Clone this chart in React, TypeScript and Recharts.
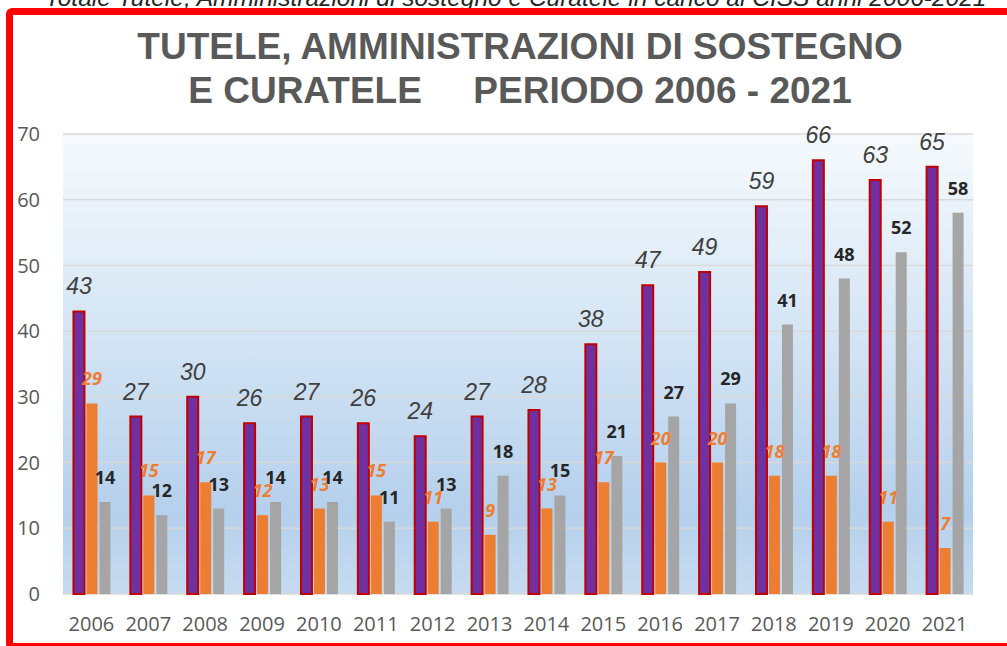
import React from "react";
import {
  BarChart,
  Bar,
  XAxis,
  YAxis,
  CartesianGrid,
  LabelList,
} from "recharts";

const years = [
  "2006", "2007", "2008", "2009", "2010", "2011", "2012", "2013",
  "2014", "2015", "2016", "2017", "2018", "2019", "2020", "2021",
];
const totale = [43, 27, 30, 26, 27, 26, 24, 27, 28, 38, 47, 49, 59, 66, 63, 65];
const tuteleCuratele = [29, 15, 17, 12, 13, 15, 11, 9, 13, 17, 20, 20, 18, 18, 11, 7];
const amministrazioni = [14, 12, 13, 14, 14, 11, 13, 18, 15, 21, 27, 29, 41, 48, 52, 58];
const yTicks = [0, 10, 20, 30, 40, 50, 60, 70];

const data = years.map((year, i) => ({
  year,
  totale: totale[i],
  tutele: tuteleCuratele[i],
  ads: amministrazioni[i],
}));

const captionStyle: React.CSSProperties = {
  position: "absolute",
  top: -14,
  fontFamily: "Liberation Sans, Arial, sans-serif",
  fontStyle: "italic",
  fontSize: 24.5,
  lineHeight: "24.5px",
  color: "#262626",
  whiteSpace: "nowrap",
};

const App: React.FC = () => {
  return (
    <div
      style={{
        position: "fixed",
        left: 0,
        top: 0,
        width: 1007,
        height: 646,
        overflow: "hidden",
        background: "#fff",
      }}
    >
      <div style={{ ...captionStyle, left: -9 }}>7</div>
      <div style={{ ...captionStyle, left: 45 }}>
        Totale Tutele, Amministrazioni di sostegno e Curatele in carico al CISS anni 2006-2021
      </div>

      <div
        style={{
          position: "absolute",
          left: 6,
          top: 8,
          width: 1020,
          height: 628,
          border: "7px solid #FF0000",
          borderRadius: 6,
          background: "#fff",
        }}
      />

      <div
        style={{
          position: "absolute",
          left: 0,
          top: 25,
          width: 1040,
          textAlign: "center",
          fontFamily: "Liberation Sans, Arial, sans-serif",
          fontWeight: "bold",
          fontSize: 37,
          lineHeight: "44px",
          color: "#595959",
          whiteSpace: "pre",
        }}
      >
        {"TUTELE, AMMINISTRAZIONI DI SOSTEGNO\nE CURATELE     PERIODO 2006 - 2021"}
      </div>

      <div style={{ position: "absolute", left: 0, top: 0 }}>
        <BarChart
          width={1007}
          height={646}
          data={data}
          margin={{ top: 134, right: 34, bottom: 22, left: 3 }}
          barCategoryGap="18.4%"
          barGap={2}
        >
          <defs>
            <linearGradient id="plotBg" x1="0" y1="0" x2="0" y2="1">
              <stop offset="0%" stopColor="#F6FAFD" />
              <stop offset="45%" stopColor="#D3E4F4" />
              <stop offset="82%" stopColor="#B5D0EC" />
              <stop offset="100%" stopColor="#C6DBF0" />
            </linearGradient>
          </defs>
          <CartesianGrid
            vertical={false}
            stroke="#D9D9D9"
            strokeWidth={1.5}
            fill="url(#plotBg)"
            fillOpacity={1}
          />
          <XAxis
            dataKey="year"
            height={30}
            axisLine={false}
            tickLine={false}
            tickSize={0}
            tickMargin={23}
            interval={0}
            tick={{ fill: "#595959", fontSize: 20, fontFamily: "Open Sans, sans-serif" }}
          />
          <YAxis
            width={60}
            domain={[0, 70]}
            ticks={yTicks}
            axisLine={false}
            tickLine={false}
            tickSize={0}
            tickMargin={23}
            tick={{ fill: "#595959", fontSize: 20, fontFamily: "Open Sans, sans-serif" }}
          />
          <Bar
            dataKey="totale"
            name="Totale"
            fill="#7030A0"
            stroke="#C00000"
            strokeWidth={2}
            isAnimationActive={false}
          >
            <LabelList
              dataKey="totale"
              position="top"
              offset={17}
              style={{
                fill: "#404040",
                fontSize: 23,
                fontStyle: "italic",
                fontFamily: "Liberation Sans, Arial, sans-serif",
              }}
            />
          </Bar>
          <Bar
            dataKey="tutele"
            name="Tutele e Curatele"
            fill="#ED7D31"
            isAnimationActive={false}
          >
            <LabelList
              dataKey="tutele"
              position="top"
              offset={18}
              style={{
                fill: "#ED7D31",
                fontSize: 18,
                fontStyle: "italic",
                fontWeight: "bold",
                fontFamily: "Open Sans, sans-serif",
              }}
            />
          </Bar>
          <Bar
            dataKey="ads"
            name="Amministrazioni di sostegno"
            fill="#A5A5A5"
            isAnimationActive={false}
          >
            <LabelList
              dataKey="ads"
              position="top"
              offset={18}
              style={{
                fill: "#262626",
                fontSize: 18,
                fontWeight: "bold",
                fontFamily: "Open Sans, sans-serif",
              }}
            />
          </Bar>
        </BarChart>
      </div>
    </div>
  );
};

export default App;
